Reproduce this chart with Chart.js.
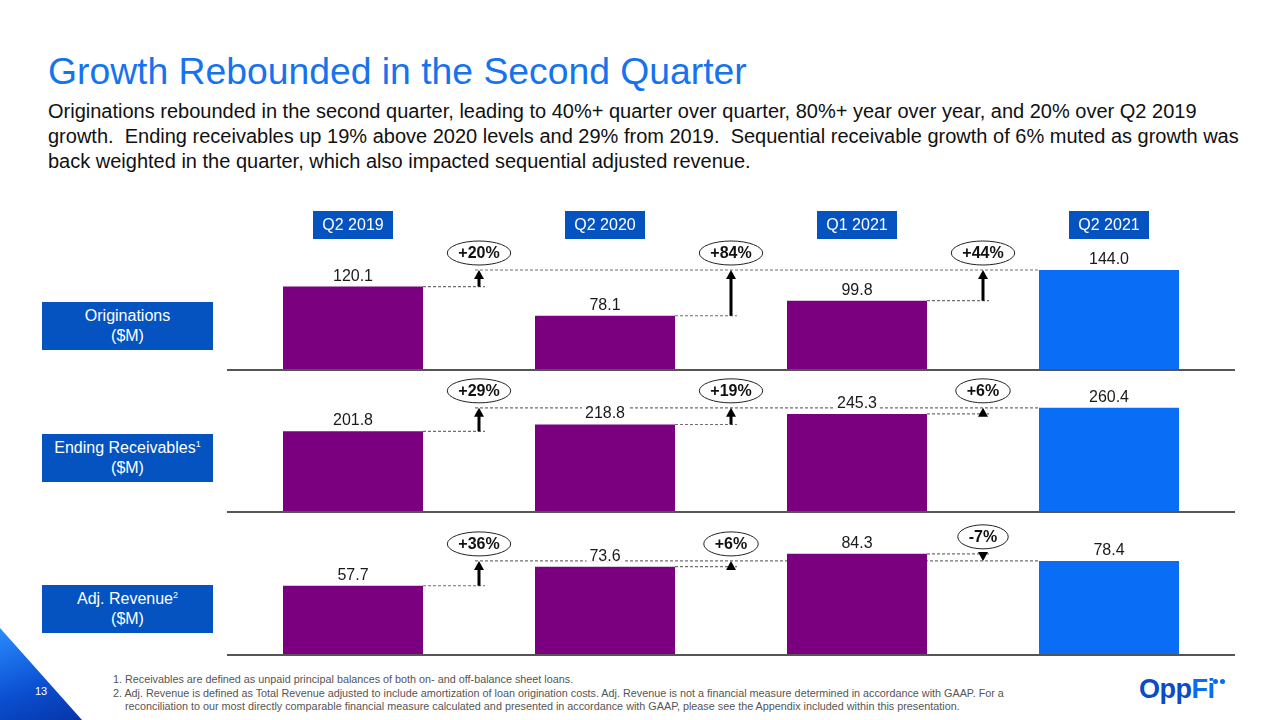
<!DOCTYPE html>
<html>
<head>
<meta charset="utf-8">
<script src="https://cdn.jsdelivr.net/npm/chart.js@4.4.1/dist/chart.umd.min.js"></script>
<style>
  html, body { margin: 0; padding: 0; background: #fff; }
  body { width: 1280px; height: 720px; position: relative; overflow: hidden;
         font-family: Arial, "Liberation Sans", sans-serif; }
  .title { position: absolute; left: 48px; top: 50px; font-size: 37.3px; color: #1673f0;
           white-space: nowrap; }
  .lead { position: absolute; left: 48px; top: 99px; font-size: 20px; line-height: 25px;
          color: #111; white-space: nowrap; }
  .rowlabel { position: absolute; left: 42px; width: 171px; height: 48px; background: #0453c0;
              color: #fff; font-size: 16px; line-height: 20px; text-align: center;
              display: flex; align-items: center; justify-content: center; }
  .rowlabel sup { font-size: 9px; vertical-align: 6px; line-height: 0; }
  canvas { position: absolute; }
  .notes { position: absolute; left: 113px; top: 673px; font-size: 10.8px; line-height: 13.5px;
           color: #555; white-space: nowrap; }
  .notes .ind { padding-left: 12px; }
  .corner { position: absolute; left: 0; top: 628px; width: 82px; height: 92px;
            clip-path: polygon(0 0, 100% 100%, 0 100%);
            background: linear-gradient(160deg, #2a8cff 0%, #0a4fd0 60%, #0635a8 100%); }
  .pagenum { position: absolute; left: 35px; top: 685px; font-size: 11px; color: #fff; }
  .logo { position: absolute; left: 1139px; top: 674px; font-size: 27px; font-weight: bold;
          letter-spacing: -0.5px; color: #0b4cc4; }
  .logo .fi { color: #0a6cf2; }
  .dot { position: absolute; top: 679px; width: 5px; height: 5px; border-radius: 50%; background: #0a6cf2; }
</style>
</head>
<body>
<div class="title">Growth Rebounded in the Second Quarter</div>
<div class="lead">
Originations rebounded in the second quarter, leading to 40%+ quarter over quarter, 80%+ year over year, and 20% over Q2 2019<br>
growth.&nbsp; Ending receivables up 19% above 2020 levels and 29% from 2019.&nbsp; Sequential receivable growth of 6% muted as growth was<br>
back weighted in the quarter, which also impacted sequential adjusted revenue.
</div>

<div class="rowlabel" style="top:302px"><div>Originations<br>($M)</div></div>
<div class="rowlabel" style="top:434px"><div>Ending Receivables<sup>1</sup><br>($M)</div></div>
<div class="rowlabel" style="top:585px"><div>Adj. Revenue<sup>2</sup><br>($M)</div></div>

<canvas id="rowOrig" width="1042" height="170" style="left:198px; top:205px"></canvas>
<canvas id="rowRec" width="1042" height="142" style="left:198px; top:375px"></canvas>
<canvas id="rowRev" width="1042" height="143" style="left:198px; top:517px"></canvas>

<div class="notes">
1. Receivables are defined as unpaid principal balances of both on- and off-balance sheet loans.<br>
2. Adj. Revenue is defined as Total Revenue adjusted to include amortization of loan origination costs. Adj. Revenue is not a financial measure determined in accordance with GAAP. For a<br>
<span class="ind">reconciliation to our most directly comparable financial measure calculated and presented in accordance with GAAP, please see the Appendix included within this presentation.</span>
</div>

<div class="corner"></div>
<div class="pagenum">13</div>
<div class="logo">Opp<span class="fi">Fi</span></div>
<div class="dot" style="left:1213px"></div>
<div class="dot" style="left:1220px"></div>

<script>
const categories = ['Q2 2019', 'Q2 2020', 'Q1 2021', 'Q2 2021'];
const originations = [120.1, 78.1, 99.8, 144.0];
const receivables = [201.8, 218.8, 245.3, 260.4];
const adjRevenue = [57.7, 73.6, 84.3, 78.4];
const originationsGrowth = ['+20%', '+84%', '+44%'];
const receivablesGrowth = ['+29%', '+19%', '+6%'];
const revenueGrowth = ['+36%', '+6%', '-7%'];

const PURPLE = '#7a0080';
const BLUE = '#0a6df5';
const FONT = 'Arial, "Liberation Sans", sans-serif';

function drawArrow(ctx, x, y0, y1) {
    const dir = y1 < y0 ? -1 : 1;
    const head = 9;
    const len = Math.abs(y1 - y0);
    ctx.save();
    ctx.setLineDash([]);
    ctx.strokeStyle = '#000';
    ctx.fillStyle = '#000';
    if (len > head) {
        ctx.lineWidth = 3;
        ctx.beginPath();
        ctx.moveTo(x, y0);
        ctx.lineTo(x, y1 - dir * (head - 1));
        ctx.stroke();
    }
    ctx.beginPath();
    ctx.moveTo(x, y1);
    ctx.lineTo(x - 5, y1 - dir * head);
    ctx.lineTo(x + 5, y1 - dir * head);
    ctx.closePath();
    ctx.fill();
    ctx.restore();
}

// dashed guides behind bars, arrows / bubbles / labels on top
const growthPlugin = {
    id: 'growth',
    beforeDatasetsDraw(chart, args, opts) {
        const ctx = chart.ctx;
        const bars = chart.getDatasetMeta(0).data;
        const last = bars.length - 1;
        const targetY = bars[last].y;
        ctx.save();
        ctx.setLineDash([3, 2]);
        ctx.strokeStyle = '#707070';
        ctx.lineWidth = 1.2;
        for (let i = 0; i < last; i++) {
            const ax = (bars[i].x + bars[i + 1].x) / 2;
            ctx.beginPath();
            ctx.moveTo(bars[i].x + bars[i].width / 2, bars[i].y);
            ctx.lineTo(ax + 6, bars[i].y);
            ctx.stroke();
        }
        const firstX = (bars[0].x + bars[1].x) / 2;
        ctx.beginPath();
        ctx.moveTo(firstX - 4, targetY);
        ctx.lineTo(bars[last].x - bars[last].width / 2, targetY);
        ctx.stroke();
        ctx.restore();
    },
    afterDatasetsDraw(chart, args, opts) {
        const ctx = chart.ctx;
        const area = chart.chartArea;
        const bars = chart.getDatasetMeta(0).data;
        const values = chart.data.datasets[0].data;
        const last = bars.length - 1;
        const targetY = bars[last].y;

        // baseline
        ctx.save();
        ctx.strokeStyle = '#555';
        ctx.lineWidth = 2;
        ctx.beginPath();
        ctx.moveTo(area.left, area.bottom);
        ctx.lineTo(area.right, area.bottom);
        ctx.stroke();

        // value labels
        ctx.font = '16px ' + FONT;
        ctx.textAlign = 'center';
        ctx.textBaseline = 'alphabetic';
        bars.forEach((bar, i) => {
            const txt = values[i].toFixed(1);
            const w = ctx.measureText(txt).width;
            ctx.fillStyle = '#fff';
            ctx.fillRect(bar.x - w / 2 - 3, bar.y - 19, w + 6, 14);
            ctx.fillStyle = '#1a1a1a';
            ctx.fillText(txt, bar.x, bar.y - 6);
        });

        // arrows and growth bubbles
        opts.growth.forEach((label, i) => {
            const ax = (bars[i].x + bars[i + 1].x) / 2;
            drawArrow(ctx, ax, bars[i].y, targetY);
            const cy = Math.min(bars[i].y, targetY) - 17;
            ctx.font = 'bold 16px ' + FONT;
            const w = ctx.measureText(label).width;
            ctx.fillStyle = '#fff';
            ctx.strokeStyle = '#222';
            ctx.lineWidth = 1;
            ctx.beginPath();
            ctx.ellipse(ax, cy, w / 2 + 11, 12, 0, 0, Math.PI * 2);
            ctx.fill();
            ctx.stroke();
            ctx.fillStyle = '#111';
            ctx.textBaseline = 'middle';
            ctx.fillText(label, ax, cy + 1);
            ctx.textBaseline = 'alphabetic';
        });

        // period headers
        if (opts.headers) {
            const xs = chart.scales.x;
            ctx.font = '16px ' + FONT;
            ctx.textBaseline = 'middle';
            chart.data.labels.forEach((lab, i) => {
                const cx = xs.getPixelForValue(i);
                ctx.fillStyle = '#0453c0';
                ctx.fillRect(cx - 40, 6, 80, 28);
                ctx.fillStyle = '#fff';
                ctx.fillText(lab, cx, 21);
            });
        }
        ctx.restore();
    }
};

function makeRow(id, values, growth, yMax, padTop, headers) {
    return new Chart(document.getElementById(id), {
        type: 'bar',
        data: {
            labels: categories,
            datasets: [{
                data: values,
                backgroundColor: values.map((v, i) => i === values.length - 1 ? BLUE : PURPLE),
                borderWidth: 0,
                barPercentage: 140 / 252,
                categoryPercentage: 1
            }]
        },
        options: {
            responsive: false,
            animation: false,
            layout: { padding: { left: 29, right: 5, top: padTop, bottom: 5 } },
            scales: {
                x: { display: false },
                y: { display: false, min: 0, max: yMax }
            },
            plugins: {
                legend: { display: false },
                tooltip: { enabled: false },
                growth: { growth: growth, headers: headers }
            }
        },
        plugins: [growthPlugin]
    });
}

makeRow('rowOrig', originations, originationsGrowth, 180, 40, true);
makeRow('rowRec', receivables, receivablesGrowth, 300, 17, false);
makeRow('rowRev', adjRevenue, revenueGrowth, 100, 18, false);
</script>
</body>
</html>
